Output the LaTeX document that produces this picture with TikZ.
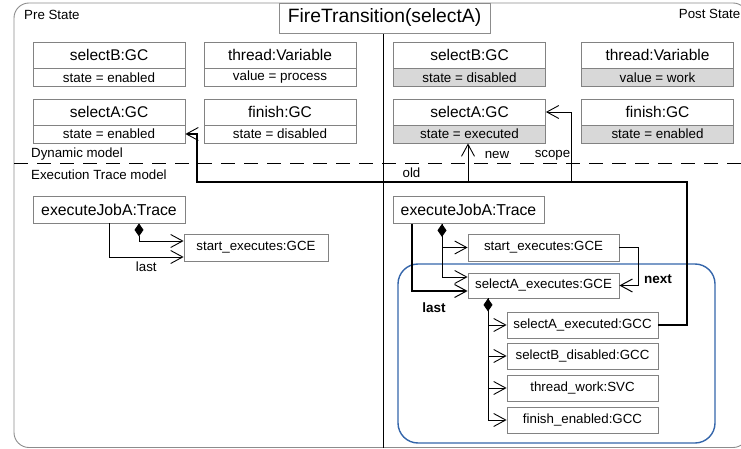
\documentclass[tikz,border=0pt]{standalone}
\usepackage{fontspec}
\setmainfont{Liberation Sans}
\usetikzlibrary{arrows.meta}
\definecolor{framegray}{RGB}{140,140,140}
\definecolor{boxgray}{RGB}{130,130,130}
\definecolor{attrfill}{RGB}{216,216,216}
\definecolor{scopeblue}{RGB}{52,101,170}
\tikzset{
  hdr/.style={draw=boxgray, fill=white, line width=0.8pt, minimum width=152pt, minimum height=26pt, inner sep=0pt, font=\fontsize{15.5}{18}\selectfont},
  attr/.style={draw=boxgray, fill=white, line width=0.8pt, minimum width=152pt, minimum height=18pt, inner sep=0pt, font=\fontsize{13.4}{16}\selectfont},
  attrpost/.style={attr, fill=attrfill},
  tracebox/.style={draw=boxgray, fill=white, line width=0.8pt, minimum height=27pt, inner sep=0pt, font=\fontsize{15.8}{18}\selectfont},
  elembox/.style={draw=boxgray, fill=white, line width=0.8pt, minimum width=151pt, minimum height=26pt, inner sep=0pt, font=\fontsize{13.3}{16}\selectfont},
  lbl/.style={inner sep=0pt, font=\fontsize{13.3}{16}\selectfont},
  boldlbl/.style={inner sep=0pt, font=\fontsize{13.5}{16}\selectfont\bfseries},
  nav/.style={draw=black, line width=0.9pt, -{Straight Barb[length=12pt,width=13pt,line width=0.9pt]}},
  navbold/.style={draw=black, line width=1.6pt, -{Straight Barb[length=12pt,width=13pt,line width=1pt]}},
  comp/.style={draw=black, line width=0.9pt, {Kite[length=13pt,width=9pt,inset=6.5pt]}-{Straight Barb[length=12pt,width=13pt,line width=0.9pt]}},
}
\begin{document}
\begin{tikzpicture}[x=1pt, y=-1pt]
\useasboundingbox (0,0) rectangle (741,449);
\clip (0,0) rectangle (741,449);

% outer frame and its partitions
\draw[framegray, line width=0.9pt, rounded corners=15pt] (14,3) rectangle (748,447.5);
\draw[black, line width=0.9pt, dash pattern=on 14pt off 9pt] (14,163) -- (741,163);
\draw[black, line width=0.9pt] (383,33) -- (383,447.5);
\node[draw=framegray, fill=white, line width=0.9pt, minimum width=211pt, minimum height=30pt, inner sep=0pt,
      font=\fontsize{19.3}{22}\selectfont] (title) at (384.5,18) {FireTransition(selectA)};

\node[lbl, anchor=west] (prelbl) at (24,15) {Pre State};
\node[lbl, anchor=east] (postlbl) at (740.5,14) {Post State};
\node[lbl, anchor=west] (dynlbl) at (31,154.5) {Dynamic model};
\node[lbl, anchor=west] (exlbl) at (31,174.5) {Execution Trace model};

% scope of the fired step
\draw[scopeblue, line width=1.4pt, rounded corners=20pt] (398,264) rectangle (715,443);

% pre state objects
\node[hdr]  (preBh) at (109,55)    {selectB:GC};
\node[attr] (preBa) at (109,77.5)  {state = enabled};
\node[hdr]  (preTh) at (280,55)    {thread:Variable};
\node[attr] (preTa) at (280,77.5)  {value = process};
\node[hdr]  (preAh) at (109,112)   {selectA:GC};
\node[attr] (preAa) at (109,134)   {state = enabled};
\node[hdr]  (preFh) at (280,112)   {finish:GC};
\node[attr] (preFa) at (280,134)   {state = disabled};

% post state objects
\node[hdr]      (postBh) at (469.5,55)   {selectB:GC};
\node[attrpost] (postBa) at (469.5,77.5) {state = disabled};
\node[hdr]      (postTh) at (657.5,55)   {thread:Variable};
\node[attrpost] (postTa) at (657.5,77.5) {value = work};
\node[hdr]      (postAh) at (469.5,112)  {selectA:GC};
\node[attrpost] (postAa) at (469.5,134)  {state = executed};
\node[hdr]      (postFh) at (657.5,112)  {finish:GC};
\node[attrpost] (postFa) at (657.5,134)  {state = enabled};

% pre state trace
\node[tracebox, minimum width=152pt] (preTrace) at (109,209.5) {executeJobA:Trace};
\node[elembox, minimum width=144pt, minimum height=27pt] (preStart) at (256,247.5) {start\_executes:GCE};
\draw[comp] ([xshift=30pt]preTrace.south) |- ([yshift=6.5pt]preStart.west);
\draw[nav] (preTrace.south) |- ([yshift=-9.5pt]preStart.west)
  node[lbl, pos=0.75, below=4pt] {last};

% post state trace
\node[tracebox, minimum width=151pt] (postTrace) at (468.5,210) {executeJobA:Trace};
\node[elembox, minimum height=27pt] (postStart) at (543.5,247.5) {start\_executes:GCE};
\node[elembox, minimum height=25pt] (postSelExec) at (543.5,285.5) {selectA\_executes:GCE};
\node[elembox] (gA) at (582.5,325) {selectA\_executed:GCC};
\node[elembox] (gB) at (582.5,356) {selectB\_disabled:GCC};
\node[elembox] (gT) at (582.5,388) {thread\_work:SVC};
\node[elembox] (gF) at (582.5,420) {finish\_enabled:GCC};

\draw[comp] ([xshift=-26.5pt]postTrace.south) |- (postStart.west);
\draw[nav]  ([xshift=-26.5pt]postTrace.south) |- ([yshift=8.5pt]postSelExec.west);
\draw[navbold] ([xshift=-56.5pt]postTrace.south) |- ([yshift=-5.5pt]postSelExec.west);
\node[boldlbl] (lastlbl) at (434,308) {last};
\draw[navbold] (postStart.east) -- ++(19pt,0) |- (postSelExec.east);
\node[boldlbl] (nextlbl) at (658,279) {next};

\draw[comp] ([xshift=-55.5pt]postSelExec.south) |- (gA.west);
\draw[nav]  ([xshift=-55.5pt]postSelExec.south) |- (gB.west);
\draw[nav]  ([xshift=-55.5pt]postSelExec.south) |- (gT.west);
\draw[nav]  ([xshift=-55.5pt]postSelExec.south) |- (gF.west);

% old / new / scope links of the executed change
\coordinate (oR) at (687,182);
\coordinate (oL) at (197,182);
\coordinate (newc) at (468,182);
\coordinate (scopec) at (571,182);
\draw[nav, line width=1.1pt] (gA.east) -| (oR) -- (oL) |- (preAa.east);
\draw[nav] (newc) -- (newc |- postAa.south);
\draw[nav] (scopec) |- (postAh.east);
\node[lbl] (oldlbl) at (411.5,173) {old};
\node[lbl] (newlbl) at (497,155) {new};
\node[lbl] (scopelbl) at (552.5,155) {scope};
\end{tikzpicture}
\end{document}
